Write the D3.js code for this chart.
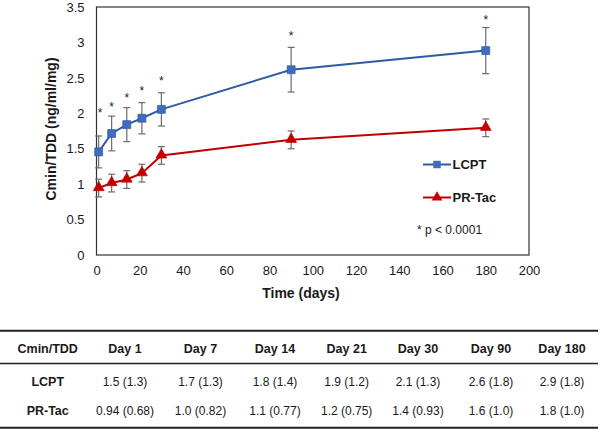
<!DOCTYPE html>
<html>
<head>
<meta charset="utf-8">
<script src="https://cdn.jsdelivr.net/npm/d3@7"></script>
<style>
  html, body { margin: 0; padding: 0; background: #fff; }
  svg { display: block; font-family: Arial, "Liberation Sans", sans-serif; }
</style>
</head>
<body>
<svg id="chart" width="600" height="430"></svg>
<script>
// ---- data ----
const days = [1, 7, 14, 21, 30, 90, 180];
const lcptMean = [1.455, 1.715, 1.84, 1.93, 2.055, 2.615, 2.885];
const lcptErr = [0.225, 0.245, 0.24, 0.22, 0.235, 0.315, 0.325];
const prtacMean = [0.945, 1.015, 1.065, 1.155, 1.405, 1.625, 1.795];
const prtacErr = [0.125, 0.125, 0.125, 0.125, 0.125, 0.125, 0.125];
const starLevel = [2.05, 2.13, 2.26, 2.36, 2.50, 3.13, 3.36];
const xTicks = [0, 20, 40, 60, 80, 100, 120, 140, 160, 180, 200];
const yTicks = [0, 0.5, 1, 1.5, 2, 2.5, 3, 3.5];
const seriesNames = ["LCPT", "PR-Tac"];
const tableHeader = ["Cmin/TDD", "Day 1", "Day 7", "Day 14", "Day 21", "Day 30", "Day 90", "Day 180"];
const tableLCPT = ["1.5 (1.3)", "1.7 (1.3)", "1.8 (1.4)", "1.9 (1.2)", "2.1 (1.3)", "2.6 (1.8)", "2.9 (1.8)"];
const tablePRTac = ["0.94 (0.68)", "1.0 (0.82)", "1.1 (0.77)", "1.2 (0.75)", "1.4 (0.93)", "1.6 (1.0)", "1.8 (1.0)"];

// ---- layout ----
const svg = d3.select("#chart");
const plot = { left: 96.5, right: 529, top: 7, bottom: 255 };
const x = d3.scaleLinear().domain([0, 200]).range([plot.left, plot.right]);
const y = d3.scaleLinear().domain([0, 3.5]).range([plot.bottom, plot.top]);

const blueLine = "#2F5AA6", blueFill = "#3D6CC0";
const redLine = "#C00000", redFill = "#C00000";
const errColor = "#6b6b6b";
const textColor = "#1a1a1a";

// frame
svg.append("rect")
  .attr("x", plot.left).attr("y", plot.top)
  .attr("width", plot.right - plot.left).attr("height", plot.bottom - plot.top)
  .attr("fill", "none").attr("stroke", "#333").attr("stroke-width", 1.2);

// axes (labels only)
const xAxis = d3.axisBottom(x).tickValues(xTicks).tickSize(0).tickPadding(11).tickFormat(d3.format("d"));
const gx = svg.append("g").attr("transform", `translate(0,${plot.bottom})`).call(xAxis);
gx.select(".domain").remove();
gx.selectAll("text").attr("font-size", 13).attr("fill", textColor).attr("font-family", "Arial, 'Liberation Sans', sans-serif");

const yAxis = d3.axisLeft(y).tickValues(yTicks).tickSize(0).tickPadding(12).tickFormat(d => String(d));
const gy = svg.append("g").attr("transform", `translate(${plot.left},0)`).call(yAxis);
gy.select(".domain").remove();
gy.selectAll("text").attr("font-size", 13).attr("fill", textColor).attr("font-family", "Arial, 'Liberation Sans', sans-serif");

// axis titles
svg.append("text").attr("x", 301).attr("y", 298).attr("text-anchor", "middle")
  .attr("font-size", 14).attr("font-weight", "bold").attr("fill", textColor).text("Time (days)");
svg.append("text").attr("transform", "translate(56,129) rotate(-90)").attr("text-anchor", "middle")
  .attr("font-size", 14).attr("font-weight", "bold").attr("fill", textColor).text("Cmin/TDD (ng/ml/mg)");

function drawSeries(means, errs, lineColor, fillColor, shape) {
  const pts = days.map((d, i) => ({ d, m: means[i], e: errs[i] }));
  const g = svg.append("g");
  // error bars
  const cap = 3.5;
  pts.forEach(p => {
    const xx = x(p.d), y1 = y(p.m + p.e), y2 = y(p.m - p.e);
    g.append("line").attr("x1", xx).attr("x2", xx).attr("y1", y1).attr("y2", y2).attr("stroke", errColor).attr("stroke-width", 1.2);
    g.append("line").attr("x1", xx - cap).attr("x2", xx + cap).attr("y1", y1).attr("y2", y1).attr("stroke", errColor).attr("stroke-width", 1.2);
    g.append("line").attr("x1", xx - cap).attr("x2", xx + cap).attr("y1", y2).attr("y2", y2).attr("stroke", errColor).attr("stroke-width", 1.2);
  });
  // line
  g.append("path").datum(pts)
    .attr("d", d3.line().x(p => x(p.d)).y(p => y(p.m)))
    .attr("fill", "none").attr("stroke", lineColor).attr("stroke-width", 2);
  // markers
  const sym = d3.symbol().type(shape === "square" ? d3.symbolSquare : d3.symbolTriangle).size(shape === "square" ? 64 : 52);
  g.selectAll("path.mk").data(pts).enter().append("path")
    .attr("class", "mk")
    .attr("d", sym)
    .attr("transform", p => `translate(${x(p.d)},${y(p.m) + (shape === "square" ? 0 : -0.5)})`)
    .attr("fill", fillColor).attr("stroke", shape === "square" ? "#2F5597" : redLine).attr("stroke-width", 0.6);
}

drawSeries(lcptMean, lcptErr, blueLine, blueFill, "square");
drawSeries(prtacMean, prtacErr, redLine, redFill, "triangle");

// significance stars
svg.append("g").selectAll("text").data(days).enter().append("text")
  .attr("x", (d, i) => x(d) + (i === 0 ? 1.5 : 0))
  .attr("y", (d, i) => y(starLevel[i]) + 7)
  .attr("text-anchor", "middle").attr("font-size", 12).attr("fill", textColor)
  .text("*");

// legend
const legend = [
  { name: seriesNames[0], color: blueLine, fill: blueFill, shape: d3.symbolSquare, size: 56, y: 164.5 },
  { name: seriesNames[1], color: redLine, fill: redFill, shape: d3.symbolTriangle, size: 50, y: 197.5 }
];
legend.forEach(l => {
  svg.append("line").attr("x1", 423).attr("x2", 451).attr("y1", l.y).attr("y2", l.y).attr("stroke", l.color).attr("stroke-width", 2);
  svg.append("path").attr("d", d3.symbol().type(l.shape).size(l.size)).attr("transform", `translate(437,${l.y})`).attr("fill", l.fill);
  svg.append("text").attr("x", 452.5).attr("y", l.y + 4.6).attr("font-size", 13).attr("font-weight", "bold").attr("fill", textColor).text(l.name);
});
svg.append("text").attr("x", 417).attr("y", 234.3).attr("font-size", 12).attr("fill", textColor).text("* p < 0.0001");

// table
const colX = [47.7, 125, 200.5, 275, 346.7, 418, 491, 562];
svg.append("line").attr("x1", 0).attr("x2", 598).attr("y1", 330.7).attr("y2", 330.7).attr("stroke", "#222").attr("stroke-width", 2);
svg.append("line").attr("x1", 0).attr("x2", 598).attr("y1", 363.5).attr("y2", 363.5).attr("stroke", "#222").attr("stroke-width", 1.6);
svg.append("line").attr("x1", 0).attr("x2", 598).attr("y1", 427.7).attr("y2", 427.7).attr("stroke", "#222").attr("stroke-width", 2);

const rows = [
  { cells: tableHeader, y: 352.8, bold: true },
  { cells: [seriesNames[0]].concat(tableLCPT), y: 385.5, bold: false },
  { cells: [seriesNames[1]].concat(tablePRTac), y: 415.2, bold: false }
];
rows.forEach(r => {
  svg.append("g").selectAll("text").data(r.cells).enter().append("text")
    .attr("x", (c, i) => colX[i]).attr("y", r.y)
    .attr("text-anchor", "middle")
    .attr("font-size", (c, i) => (r.bold || i === 0) ? 12.5 : 12)
    .attr("font-weight", (c, i) => (r.bold || i === 0) ? "bold" : "normal")
    .attr("fill", textColor)
    .text(c => c);
});
</script>
</body>
</html>
